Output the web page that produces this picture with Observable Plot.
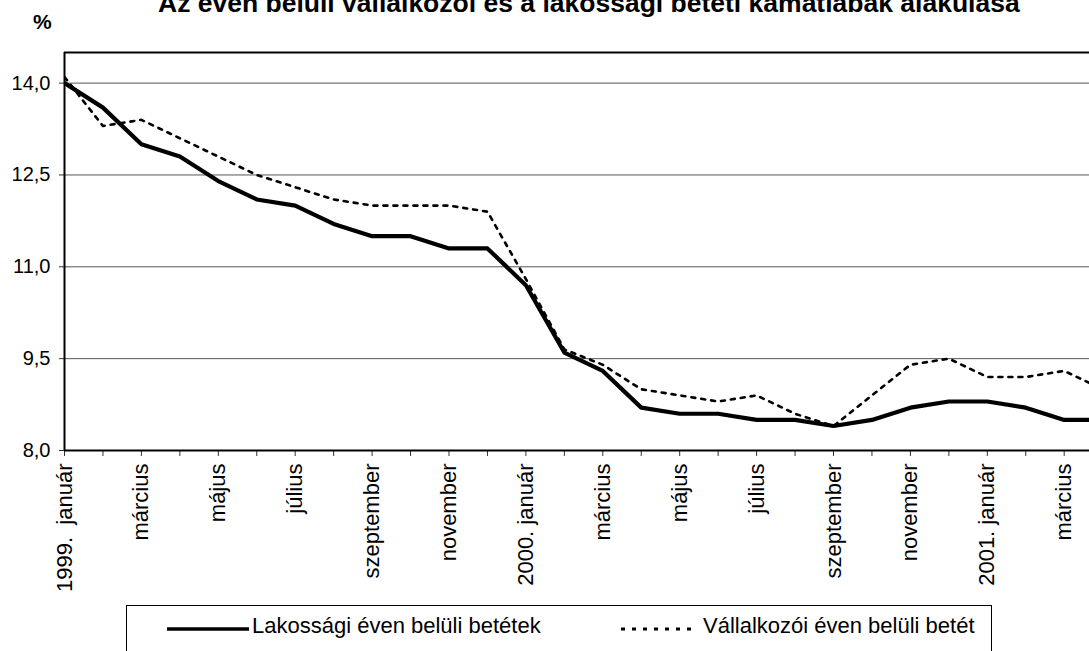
<!DOCTYPE html>
<html>
<head>
<meta charset="utf-8">
<script src="https://cdn.jsdelivr.net/npm/d3@7"></script>
<script src="https://cdn.jsdelivr.net/npm/@observablehq/plot@0.6"></script>
<style>
  body { margin: 0; background: #fff; overflow: hidden; }
  #wrap { position: relative; width: 1089px; height: 651px; overflow: hidden; background: #fff;
          font-family: Arial, "Liberation Sans", sans-serif; color: #000; }
  #title { position: absolute; left: 158px; top: -10px; font-weight: bold; font-size: 26.5px;
           line-height: 1; white-space: nowrap; }
  #pct { position: absolute; left: 33px; top: 10.5px; font-weight: bold; font-size: 21px; line-height: 1; }
  #chart { position: absolute; left: 0; top: 0; }
  #legend { position: absolute; left: 126px; top: 605px; width: 866px; height: 80px;
            border: 1px solid #000; box-sizing: border-box; background: #fff; }
  .lg-sample { position: absolute; top: 18px; }
  .lg-text { position: absolute; top: 9px; font-size: 22px; line-height: 22px; white-space: nowrap; }
</style>
</head>
<body>
<div id="wrap">
  <div id="chart"></div>
  <div id="title"></div>
  <div id="pct">%</div>
  <div id="legend"></div>
</div>
<script>
const titleText = "Az éven belüli vállalkozói és a lakossági betéti kamatlábak alakulása";
const unitLabel = "%";
const months = [
  "1999.  január", "február", "március", "április", "május", "június", "július",
  "augusztus", "szeptember", "október", "november", "december",
  "2000. január", "február", "március", "április", "május", "június", "július",
  "augusztus", "szeptember", "október", "november", "december",
  "2001. január", "február", "március", "április"
];
const lakossagi = [
  14.0, 13.6, 13.0, 12.8, 12.4, 12.1, 12.0, 11.7, 11.5, 11.5, 11.3, 11.3,
  10.7, 9.6, 9.3, 8.7, 8.6, 8.6, 8.5, 8.5, 8.4, 8.5, 8.7, 8.8,
  8.8, 8.7, 8.5, 8.5
];
const vallalkozoi = [
  14.1, 13.3, 13.4, 13.1, 12.8, 12.5, 12.3, 12.1, 12.0, 12.0, 12.0, 11.9,
  10.8, 9.65, 9.4, 9.0, 8.9, 8.8, 8.9, 8.6, 8.4, 8.9, 9.4, 9.5,
  9.2, 9.2, 9.3, 9.0
];
const yTicks = [8.0, 9.5, 11.0, 12.5, 14.0];
const seriesNames = ["Lakossági éven belüli betétek", "Vállalkozói éven belüli betét"];

document.getElementById("title").textContent = titleText;
document.getElementById("pct").textContent = unitLabel;

const data = months.map((m, i) => ({i, m, lak: lakossagi[i], val: vallalkozoi[i]}));
const step = 38.45;
const left = 64;

const chart = Plot.plot({
  width: 1089,
  height: 600,
  marginLeft: left,
  marginRight: 0,
  marginTop: 52,
  marginBottom: 150,
  style: {fontFamily: "Arial, 'Liberation Sans', sans-serif", background: "transparent", color: "#000"},
  x: {type: "linear", domain: [0, months.length - 1], range: [left, left + (months.length - 1) * step]},
  y: {domain: [8, 14.5]},
  marks: [
    Plot.ruleY(yTicks.filter(d => d > 8), {stroke: "#555", strokeWidth: 1}),
    Plot.axisY({ticks: yTicks, tickFormat: d => d.toFixed(1).replace(".", ","), tickSize: 5,
                tickPadding: 9, fontSize: 20, label: null, stroke: "#333"}),
    Plot.axisX({ticks: d3.range(months.length), tickFormat: i => (i % 2 === 0 ? months[i] : ""),
                tickRotate: -90, tickSize: 6, tickPadding: 7, fontSize: 22, label: null, stroke: "#333"}),
    Plot.lineY(data, {x: "i", y: "val", stroke: "#000", strokeWidth: 2.6, strokeDasharray: "4,6", clip: true}),
    Plot.lineY(data, {x: "i", y: "lak", stroke: "#000", strokeWidth: 4.2, clip: true}),
    Plot.ruleY([8], {stroke: "#000", strokeWidth: 2}),
    Plot.ruleY([14.5], {stroke: "#000", strokeWidth: 2}),
    Plot.ruleX([0], {stroke: "#000", strokeWidth: 2})
  ]
});
document.getElementById("chart").appendChild(chart);

// legend
const lg = document.getElementById("legend");
function addItem(sampleLeft, sampleWidth, textLeft, dash, sw, name) {
  const ns = "http://www.w3.org/2000/svg";
  const s = document.createElementNS(ns, "svg");
  s.setAttribute("class", "lg-sample");
  s.setAttribute("width", sampleWidth);
  s.setAttribute("height", 10);
  s.style.left = sampleLeft + "px";
  const l = document.createElementNS(ns, "line");
  l.setAttribute("x1", 0); l.setAttribute("x2", sampleWidth);
  l.setAttribute("y1", 5); l.setAttribute("y2", 5);
  l.setAttribute("stroke", "#000");
  l.setAttribute("stroke-width", sw);
  if (dash) l.setAttribute("stroke-dasharray", dash);
  s.appendChild(l);
  lg.appendChild(s);
  const t = document.createElement("div");
  t.className = "lg-text";
  t.style.left = textLeft + "px";
  t.textContent = name;
  lg.appendChild(t);
}
addItem(40, 82, 125, null, 3.5, seriesNames[0]);
addItem(494, 72, 576, "4,7", 3, seriesNames[1]);
</script>
</body>
</html>
